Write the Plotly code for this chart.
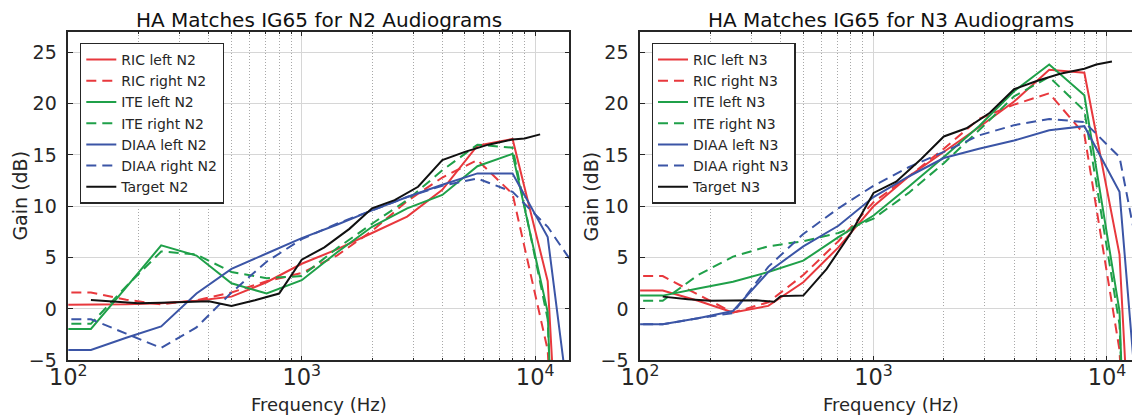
import math
import plotly.graph_objects as go

# ---------------- data ----------------
FREQ_HA = [88, 125, 177, 250, 354, 500, 707, 1000, 1414, 2000, 2828, 4000, 5657, 8000, 11314, 16000]

RIC_LEFT_N2 = [0.4, 0.4, 0.45, 0.55, 0.8, 1.2, 2.6, 4.4, 5.8, 7.4, 9.0, 11.6, 15.9, 16.55, 2.7, -60]
RIC_RIGHT_N2 = [1.6, 1.6, 0.9, 0.45, 0.85, 1.6, 2.7, 3.5, 5.2, 7.6, 10.5, 12.8, 14.5, 11.2, -4.0, -70]
ITE_LEFT_N2 = [-1.95, -1.95, 2.1, 6.2, 5.2, 2.5, 1.5, 2.8, 5.5, 8.0, 9.8, 11.1, 13.9, 15.1, -0.3, -100]
ITE_RIGHT_N2 = [-1.45, -1.45, 2.2, 5.6, 5.3, 3.6, 3.0, 3.2, 5.9, 8.3, 10.6, 13.5, 16.0, 15.7, -1.0, -90]
DIAA_LEFT_N2 = [-4.0, -4.0, -2.8, -1.7, 1.5, 3.9, 5.4, 6.9, 8.2, 9.6, 10.9, 12.1, 13.2, 13.2, 7.0, -20]
DIAA_RIGHT_N2 = [-1.0, -1.0, -2.4, -3.8, -1.8, 1.6, 4.6, 6.8, 8.3, 9.6, 10.9, 12.0, 12.7, 11.4, 8.0, 3.0]

RIC_LEFT_N3 = [1.8, 1.8, 0.8, -0.35, 0.3, 2.6, 6.0, 10.0, 12.9, 15.3, 17.7, 20.2, 23.3, 23.0, 5.3, -60]
RIC_RIGHT_N3 = [3.2, 3.2, 1.4, -0.35, 0.65, 3.3, 6.6, 10.4, 12.9, 15.6, 18.5, 19.9, 21.0, 17.0, -4.0, -70]
ITE_LEFT_N3 = [1.3, 1.3, 2.0, 2.65, 3.6, 4.7, 7.0, 9.1, 11.9, 14.8, 17.8, 21.2, 23.8, 20.8, -0.2, -100]
ITE_RIGHT_N3 = [0.8, 0.8, 3.3, 5.1, 6.1, 6.6, 7.4, 8.8, 11.3, 14.2, 17.4, 20.7, 22.6, 19.3, -1.5, -90]
DIAA_LEFT_N3 = [-1.5, -1.5, -0.9, -0.2, 3.6, 6.1, 8.1, 10.9, 12.9, 14.7, 15.6, 16.4, 17.4, 17.8, 11.4, -30]
DIAA_RIGHT_N3 = [-1.5, -1.5, -0.9, -0.4, 4.1, 7.3, 9.8, 12.0, 13.8, 15.3, 16.9, 17.9, 18.5, 18.2, 14.8, -2.7]

FREQ_TARGET_N2 = [125, 160, 200, 250, 315, 400, 500, 630, 800, 1000, 1250, 1600, 2000, 2500,
                  3150, 4000, 5000, 6300, 8000, 9000, 10500]
TARGET_N2 = [0.87, 0.7, 0.55, 0.6, 0.7, 0.75, 0.3, 0.85, 1.5, 4.8, 6.0, 7.8, 9.8, 10.6,
             11.9, 14.5, 15.3, 16.0, 16.5, 16.6, 17.0]

FREQ_TARGET_N3 = [125, 160, 200, 250, 315, 375, 400, 500, 630, 800, 1000, 1250, 1600, 2000,
                  2500, 3150, 4000, 5000, 6300, 8000, 9000, 10500]
TARGET_N3 = [1.2, 0.95, 0.8, 0.85, 0.85, 0.7, 1.25, 1.3, 3.9, 7.4, 11.3, 12.4, 14.6, 16.8,
             17.6, 19.1, 21.4, 22.2, 22.9, 23.4, 23.8, 24.1]

TITLES = ["HA Matches IG65 for N2 Audiograms", "HA Matches IG65 for N3 Audiograms"]
X_TITLE = "Frequency (Hz)"
Y_TITLE = "Gain (dB)"

# ---------------- styling ----------------
W, H = 1132, 416
FONT = "DejaVu Sans"
TXT = "#262626"
AX = "#262626"
GRID = "#d6d6d6"
MGRID = "#a8a8a8"
RED = "#e8383d"
GREEN = "#1fa049"
BLUE = "#3b55a6"
BLACK = "#111111"
DASH = "10px,6px"
LW = 2.0

# pixel geometry of the two plot areas
L1, R1 = 68.3, 569.3
L2 = 640.1
DECADE = (R1 - L1) / (math.log10(14000) - 2)
TOP, BOT = 31.7, 360.3

fig = go.Figure()

panels = [
    ("N2", [RIC_LEFT_N2, RIC_RIGHT_N2, ITE_LEFT_N2, ITE_RIGHT_N2, DIAA_LEFT_N2, DIAA_RIGHT_N2],
     FREQ_TARGET_N2, TARGET_N2, "x", "y", "legend"),
    ("N3", [RIC_LEFT_N3, RIC_RIGHT_N3, ITE_LEFT_N3, ITE_RIGHT_N3, DIAA_LEFT_N3, DIAA_RIGHT_N3],
     FREQ_TARGET_N3, TARGET_N3, "x2", "y2", "legend2"),
]
names = ["RIC left", "RIC right", "ITE left", "ITE right", "DIAA left", "DIAA right"]
colors = [RED, RED, GREEN, GREEN, BLUE, BLUE]
dashes = ["solid", DASH, "solid", DASH, "solid", DASH]

for tag, series, ft, tv, xa, ya, lg in panels:
    for nm, ys, c, d in zip(names, series, colors, dashes):
        fig.add_trace(go.Scatter(x=FREQ_HA, y=ys, mode="lines", name=f"{nm} {tag}",
                                 line=dict(color=c, width=LW, dash=d),
                                 xaxis=xa, yaxis=ya, legend=lg))
    fig.add_trace(go.Scatter(x=ft, y=tv, mode="lines", name=f"Target {tag}",
                             line=dict(color=BLACK, width=LW),
                             xaxis=xa, yaxis=ya, legend=lg))


def xaxis(domain, rng, anchor):
    return dict(type="log", domain=domain, range=rng, anchor=anchor, dtick=1,
                exponentformat="power", showexponent="all", automargin=False,
                showline=True, linecolor=AX, linewidth=1.5, mirror="ticks",
                ticks="inside", ticklen=5, tickwidth=1, tickcolor=AX,
                showgrid=True, gridcolor=GRID, gridwidth=1, zeroline=False,
                ticklabelstandoff=-3,
                minor=dict(dtick="D1", ticks="inside", ticklen=3, tickcolor=AX,
                           showgrid=True, gridcolor=MGRID, griddash="1px,2px", gridwidth=1),
                tickfont=dict(family=FONT, size=18, color=TXT))


def yaxis(anchor, mirror):
    return dict(domain=[1 - BOT / H, 1 - TOP / H], range=[-5, 27], anchor=anchor,
                tick0=0, dtick=5, showline=True, linecolor=AX, linewidth=1.5, mirror=mirror,
                ticks="inside", ticklen=5, tickwidth=1, tickcolor=AX, automargin=False,
                showgrid=True, gridcolor=GRID, gridwidth=1, zeroline=False,
                ticklabelstandoff=6,
                tickfont=dict(family=FONT, size=19, color=TXT))


x2_end = 2 + (W - L2) / DECADE

legend_common = dict(xanchor="left", yanchor="top", bgcolor="white", bordercolor=AX,
                     borderwidth=1.3, font=dict(family=FONT, size=14, color=TXT),
                     itemwidth=30, tracegroupgap=0)

centers = [(L1 + R1) / 2, L2 + (R1 - L1) / 2]
annotations = []
for cx, t in zip(centers, TITLES):
    annotations.append(dict(text=t, x=cx / W, y=1 - 20 / H, xref="paper", yref="paper",
                            xanchor="center", yanchor="middle", showarrow=False,
                            font=dict(family=FONT, size=20, color="#111111")))
    annotations.append(dict(text=X_TITLE, x=cx / W, y=1 - 404 / H, xref="paper", yref="paper",
                            xanchor="center", yanchor="middle", showarrow=False,
                            font=dict(family=FONT, size=18, color=TXT)))
for lx in [L1, L2]:
    annotations.append(dict(text=Y_TITLE, x=(lx - 48.7) / W, y=1 - ((TOP + BOT) / 2) / H,
                            xref="paper", yref="paper", xanchor="center", yanchor="middle",
                            textangle=-90, showarrow=False,
                            font=dict(family=FONT, size=19, color=TXT)))

fig.update_layout(
    width=W, height=H, margin=dict(l=0, r=0, t=0, b=0, autoexpand=False),
    paper_bgcolor="white", plot_bgcolor="white",
    font=dict(family=FONT, color=TXT),
    xaxis=xaxis([L1 / W, R1 / W], [2, math.log10(14000)], "y"),
    yaxis=yaxis("x", "ticks"),
    xaxis2=xaxis([L2 / W, 1.0], [2, x2_end], "y2"),
    yaxis2=yaxis("x2", False),
    legend=dict(x=80 / W, y=1 - 42.7 / H, **legend_common),
    legend2=dict(x=651.7 / W, y=1 - 42.7 / H, **legend_common),
    annotations=annotations,
    showlegend=True,
)

fig.write_html("out.html")
